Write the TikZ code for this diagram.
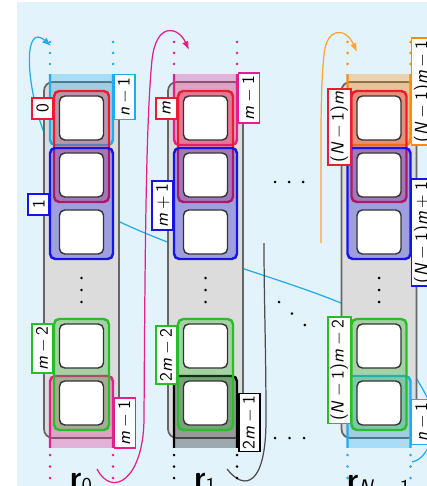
\documentclass[tikz,border=0pt]{standalone}
\usetikzlibrary{arrows.meta}

\definecolor{bgblue}{RGB}{227,243,251}
\definecolor{ringcyan}{RGB}{30,172,238}
\definecolor{ringred}{RGB}{236,28,46}
\definecolor{ringblue}{RGB}{20,20,235}
\definecolor{ringgreen}{RGB}{40,190,40}
\definecolor{ringpink}{RGB}{228,30,140}
\definecolor{ringorange}{RGB}{255,140,0}
\definecolor{colgray}{RGB}{220,220,220}

% sans index terms: italic letters, math minus and plus
\newcommand{\vm}{\textit{m}}
\newcommand{\vN}{\textit{N}}
\newcommand{\vn}{\textit{n}}
\newcommand{\mns}{\:$-$\:}
\newcommand{\pls}{\:$+$\:}

\tikzset{
    rowbox/.style={draw=gray!80!black, line width=1pt, fill=colgray,
        rounded corners=5pt, minimum width=15mm, minimum height=71.2mm},
    cell/.style={draw=black!80, line width=0.8pt, fill=white,
        rounded corners=3pt, minimum size=8.8mm},
    narrow/.style={draw=#1, line width=1.4pt, fill=#1, fill opacity=0.3,
        rounded corners=3pt, minimum width=11mm, minimum height=22.2mm},
    wide/.style={narrow=#1, minimum width=12.6mm},
    tail/.style={wide=#1, minimum height=16mm},
    idx/.style={draw=#1, line width=0.9pt, fill=white, rotate=90, font=\sffamily,
        inner sep=1.5pt, minimum width=4.2mm, minimum height=4.2mm},
    rowname/.style={font=\sffamily\LARGE, inner sep=0pt, anchor=north},
    dotrow/.style={line width=1.7pt, line cap=round, dash pattern=on 0pt off #1},
    link/.style={line width=0.7pt}
}

\begin{document}
\begin{tikzpicture}[x=0.2mm, y=-0.2mm]
    \useasboundingbox (0,0) rectangle (427,486);
    \clip (0,0) rectangle (427,486);
    \fill[bgblue] (17,2) rectangle (427,486);

    % links between the rows, drawn first so the rows hide them
    \coordinate (outN) at (412,462);
    \coordinate (in0) at (51,46);
    \coordinate (out0) at (97,469);
    \coordinate (in1) at (189,50);
    \coordinate (out1) at (227,469);
    \coordinate (inM) at (264,243);
    \coordinate (outM) at (321,243);
    \coordinate (inN) at (357,52);
    \draw[link, ringcyan, -{Latex[length=5pt]}] (outN) .. controls (432,458) and (440,420) .. (427,397)
        .. controls (410,365) and (380,320) .. (341,303)
        .. controls (280,278) and (190,255) .. (120,222)
        .. controls (90,205) and (55,160) .. (43,130)
        .. controls (25,80) and (24,22) .. (in0);
    \draw[link, ringpink, -{Latex[length=5pt]}] (out0) .. controls (112,498) and (143,480) .. (144,420)
        .. controls (145,250) and (146,120) .. (152,60)
        .. controls (156,22) and (178,26) .. (in1);
    \draw[link, black!70] (out1) .. controls (245,492) and (266,485) .. (266,420)
        .. controls (266,350) and (264,300) .. (inM);
    \draw[link, ringorange!80, -{Latex[length=5pt]}] (outM) .. controls (321,150) and (320,90) .. (324,55)
        .. controls (326,28) and (345,26) .. (inN);

    % the three rows
    \node[rowbox] (row0) at (81.5,260) {};
    \node[rowbox] (row1) at (205.5,260) {};
    \node[rowbox] (rowN) at (379,260) {};

    % windows that run over into the neighbouring row
    \begin{scope}
        \clip (0,75) rectangle (427,447);
        \node[tail=ringcyan] (top0) at (81.5,105) {};
        \node[tail=ringpink] (bot0) at (81.5,416) {};
        \node[tail=ringpink] (top1) at (205.5,105) {};
        \node[tail=black] (bot1) at (205.5,416) {};
        \node[tail=ringorange] (topN) at (379,105) {};
        \node[tail=ringcyan] (botN) at (379,416) {};
    \end{scope}

    \node[narrow=ringred] (red0) at (81.5,146.5) {};
    \node[wide=ringblue] (blue0) at (81.5,203.5) {};
    \node[narrow=ringgreen] (green0) at (81.5,374.5) {};
    \node[narrow=ringred] (red1) at (205.5,146.5) {};
    \node[wide=ringblue] (blue1) at (205.5,203.5) {};
    \node[narrow=ringgreen] (green1) at (205.5,374.5) {};
    \node[narrow=ringred] (redN) at (379,146.5) {};
    \node[wide=ringblue] (blueN) at (379,203.5) {};
    \node[narrow=ringgreen] (greenN) at (379,374.5) {};

    % slots
    \node[cell] (c0a) at (81.5,118) {};
    \node[cell] (c0b) at (81.5,175) {};
    \node[cell] (c0c) at (81.5,232) {};
    \node[cell] (c0d) at (81.5,346) {};
    \node[cell] (c0e) at (81.5,403) {};
    \node[cell] (c1a) at (205.5,118) {};
    \node[cell] (c1b) at (205.5,175) {};
    \node[cell] (c1c) at (205.5,232) {};
    \node[cell] (c1d) at (205.5,346) {};
    \node[cell] (c1e) at (205.5,403) {};
    \node[cell] (cNa) at (379,118) {};
    \node[cell] (cNb) at (379,175) {};
    \node[cell] (cNc) at (379,232) {};
    \node[cell] (cNd) at (379,346) {};
    \node[cell] (cNe) at (379,403) {};

    % dots
    \draw[dotrow=2.4mm] (81.5,278) -- (81.5,302.2);
    \draw[dotrow=2.4mm] (205.5,278) -- (205.5,302.2);
    \draw[dotrow=2.4mm] (379,278) -- (379,302.2);
    \draw[dotrow=2.8mm] (275,182) -- (303.2,182);
    \draw[dotrow=3.47mm] (279,302) -- (305.2,325.2);
    \draw[dotrow=2.9mm] (275,438) -- (304.2,438);
    \draw[ringcyan, dotrow=2.2mm] (50,42) -- (50,64.2);
    \draw[ringcyan, dotrow=2.2mm] (113,42) -- (113,64.2);
    \draw[ringpink, dotrow=2.3mm] (50,455) -- (50,478.2);
    \draw[ringpink, dotrow=2.3mm] (113,455) -- (113,478.2);
    \draw[ringpink, dotrow=2.2mm] (174,42) -- (174,64.2);
    \draw[ringpink, dotrow=2.2mm] (237,42) -- (237,64.2);
    \draw[black, dotrow=2.3mm] (174,455) -- (174,478.2);
    \draw[black, dotrow=2.3mm] (237,455) -- (237,478.2);
    \draw[ringorange, dotrow=2.2mm] (347.5,42) -- (347.5,64.2);
    \draw[ringorange, dotrow=2.2mm] (410.5,42) -- (410.5,64.2);
    \draw[ringcyan, dotrow=2.3mm] (347.5,455) -- (347.5,478.2);
    \draw[ringcyan, dotrow=2.3mm] (410.5,455) -- (410.5,478.2);

    % indices
    \node[idx=ringred, anchor=south east] (i0) at (54,97) {0};
    \node[idx=ringblue, anchor=south east] (i1) at (50,193) {1};
    \node[idx=ringgreen, anchor=south east] (i2) at (54,323) {\vm\mns2};
    \node[idx=ringcyan, anchor=north] (i3) at (113,97) {\vn\mns1};
    \node[idx=ringpink, anchor=north] (i4) at (113.5,423) {\vm\mns1};
    \node[idx=ringred, anchor=south east] (i5) at (178,97) {\vm};
    \node[idx=ringblue, anchor=south east] (i6) at (174,180) {\vm\pls1};
    \node[idx=ringgreen, anchor=south east] (i7) at (178,325) {2\vm\mns2};
    \node[idx=ringpink, anchor=north] (i8) at (237.5,98) {\vm\mns1};
    \node[idx=black, anchor=north] (i9) at (238,422.5) {2\vm\mns1};
    \node[idx=ringred, anchor=south east] (i10) at (351.5,88) {(\vN\mns1)\vm};
    \node[idx=ringgreen, anchor=south east] (i11) at (351.5,316) {(\vN\mns1)\vm\mns2};
    \node[idx=ringorange, anchor=north] (i12) at (410.5,91.5) {(\vN\mns1)\vm\mns1};
    \node[idx=ringblue, anchor=north] (i13) at (410.5,232.5) {(\vN\mns1)\vm\pls1};
    \node[idx=ringcyan, anchor=north] (i14) at (410.5,422) {\vn\mns1};

    % row names
    \node[rowname] (r0) at (81.5,473) {\textbf{r}\textsubscript{0}};
    \node[rowname] (r1) at (205.5,473) {\textbf{r}\textsubscript{1}};
    \node[rowname] (rN) at (379,475) {\textbf{r}\textsubscript{\vN\mns1}};
\end{tikzpicture}
\end{document}
